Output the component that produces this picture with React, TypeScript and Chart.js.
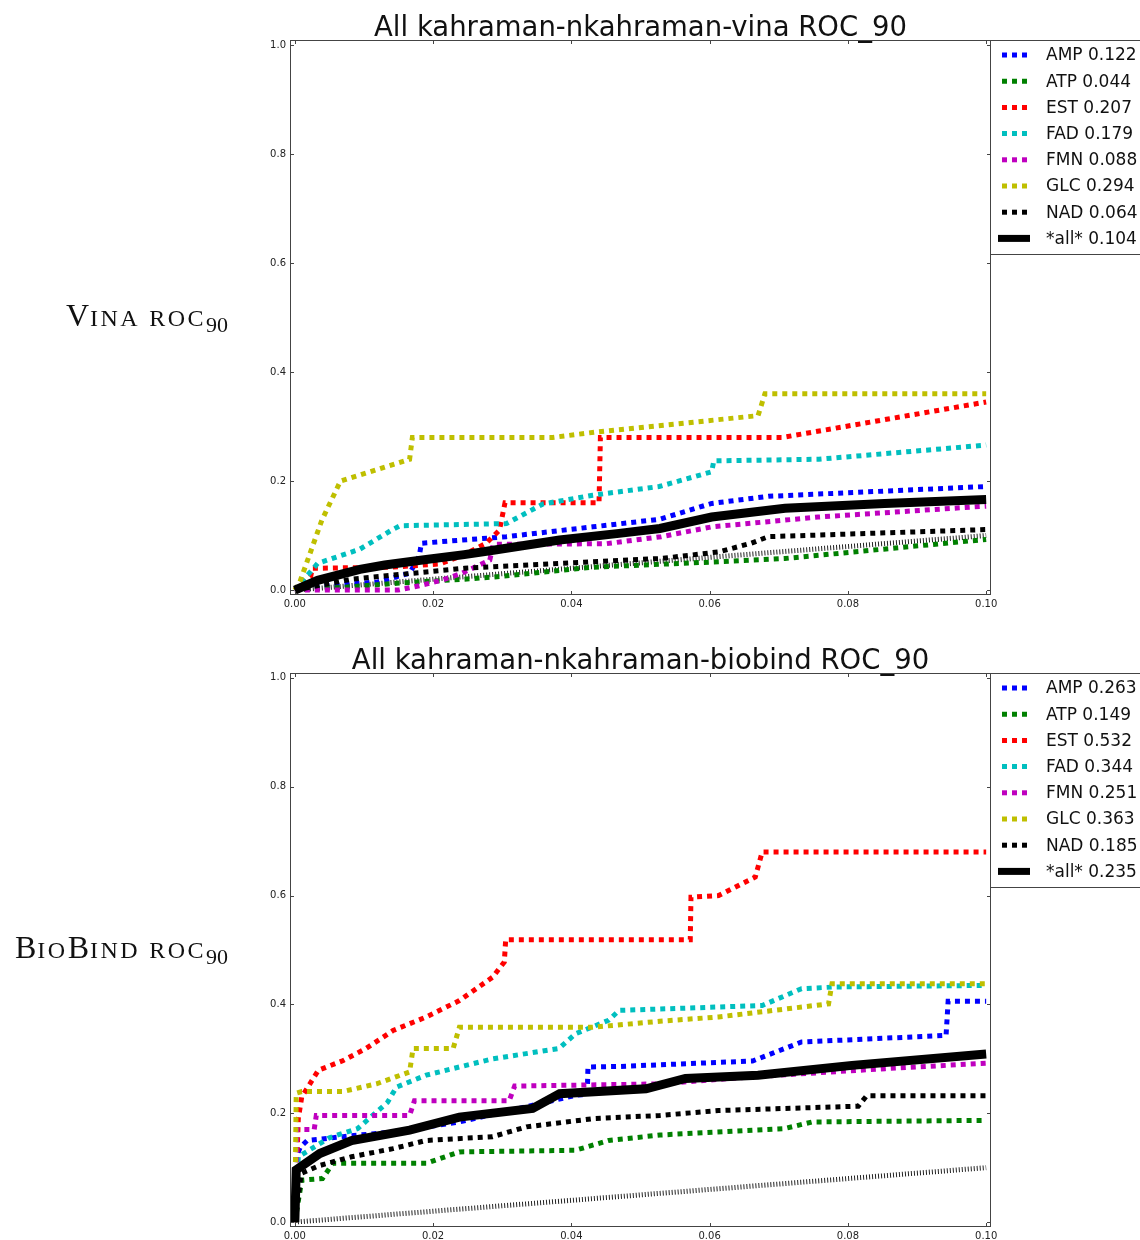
import React, { useEffect, useRef } from "react";
import { Chart, registerables } from "chart.js";
Chart.register(...registerables);

type Pt = [number, number];

// ---------- data ----------
const seriesLabels = ["AMP", "ATP", "EST", "FAD", "FMN", "GLC", "NAD", "*all*"];
const seriesColors = ["#0000ff", "#008000", "#ff0000", "#00bfbf", "#bf00bf", "#bfbf00", "#000000", "#000000"];
const vinaAuc = [0.122, 0.044, 0.207, 0.179, 0.088, 0.294, 0.064, 0.104];
const biobindAuc = [0.263, 0.149, 0.532, 0.344, 0.251, 0.363, 0.185, 0.235];
const xTickValues = [0, 0.02, 0.04, 0.06, 0.08, 0.1];
const yTickValues = [0, 0.2, 0.4, 0.6, 0.8, 1.0];
const randomLine: Pt[] = [[0, 0], [0.1, 0.1]];

const vinaAMP: Pt[] = [[0, 0], [0.005, 0.008], [0.012, 0.015], [0.0166, 0.031], [0.018, 0.062], [0.0183, 0.086], [0.0306, 0.098], [0.0431, 0.116], [0.0528, 0.13], [0.0603, 0.159], [0.0685, 0.172], [0.1, 0.19]];
const vinaATP: Pt[] = [[0, 0], [0.008, 0.006], [0.0152, 0.013], [0.0245, 0.02], [0.0287, 0.024], [0.0431, 0.042], [0.0613, 0.052], [0.0709, 0.058], [0.1, 0.093]];
const vinaEST: Pt[] = [[0, 0], [0.0023, 0.025], [0.0025, 0.04], [0.014, 0.042], [0.021, 0.048], [0.0243, 0.064], [0.0277, 0.086], [0.0296, 0.11], [0.0304, 0.16], [0.044, 0.16], [0.0442, 0.28], [0.0705, 0.28], [0.1, 0.345]];
const vinaFAD: Pt[] = [[0, 0], [0.001, 0.015], [0.0033, 0.049], [0.0094, 0.075], [0.014, 0.11], [0.0152, 0.118], [0.0306, 0.122], [0.0359, 0.158], [0.0431, 0.174], [0.0527, 0.19], [0.0603, 0.217], [0.0606, 0.237], [0.0758, 0.24], [0.1, 0.266]];
const vinaFMN: Pt[] = [[0, 0], [0.0149, 0], [0.018, 0.008], [0.0212, 0.018], [0.024, 0.03], [0.0282, 0.055], [0.0287, 0.084], [0.045, 0.085], [0.053, 0.098], [0.0603, 0.116], [0.0757, 0.134], [0.1, 0.154]];
const vinaGLC: Pt[] = [[0, 0], [0.0007, 0.014], [0.0039, 0.128], [0.0066, 0.2], [0.0166, 0.24], [0.017, 0.28], [0.0373, 0.28], [0.0436, 0.29], [0.067, 0.32], [0.068, 0.36], [0.1, 0.36]];
const vinaNAD: Pt[] = [[0, 0], [0.0082, 0.02], [0.0171, 0.031], [0.0245, 0.04], [0.0287, 0.043], [0.0431, 0.052], [0.053, 0.058], [0.0613, 0.07], [0.066, 0.086], [0.0685, 0.098], [0.1, 0.111]];
const vinaAll: Pt[] = [[0, 0], [0.0033, 0.018], [0.0094, 0.038], [0.013, 0.046], [0.019, 0.056], [0.0245, 0.065], [0.0287, 0.073], [0.0383, 0.092], [0.0469, 0.104], [0.0528, 0.113], [0.0603, 0.134], [0.0709, 0.15], [0.0853, 0.159], [0.1, 0.166]];

const bioAMP: Pt[] = [[0, 0], [0.0002, 0.12], [0.0008, 0.138], [0.0018, 0.15], [0.007, 0.157], [0.0142, 0.166], [0.0238, 0.184], [0.0335, 0.212], [0.0406, 0.233], [0.0423, 0.235], [0.0424, 0.285], [0.0469, 0.286], [0.0662, 0.296], [0.0733, 0.331], [0.0942, 0.343], [0.0945, 0.406], [0.1, 0.406]];
const bioATP: Pt[] = [[0, 0], [0.001, 0.077], [0.004, 0.08], [0.0055, 0.108], [0.019, 0.108], [0.0238, 0.129], [0.0406, 0.132], [0.0454, 0.15], [0.0528, 0.16], [0.0709, 0.172], [0.0748, 0.184], [0.1, 0.187]];
const bioEST: Pt[] = [[0, 0], [0.0005, 0.19], [0.001, 0.23], [0.0034, 0.279], [0.007, 0.297], [0.0103, 0.319], [0.0142, 0.352], [0.019, 0.377], [0.0238, 0.407], [0.0286, 0.45], [0.0303, 0.478], [0.0305, 0.519], [0.0572, 0.519], [0.0573, 0.597], [0.0613, 0.6], [0.0666, 0.634], [0.0676, 0.68], [0.1, 0.68]];
const bioFAD: Pt[] = [[0, 0], [0.0005, 0.12], [0.005, 0.155], [0.0091, 0.172], [0.0134, 0.22], [0.0147, 0.248], [0.019, 0.27], [0.0286, 0.3], [0.0382, 0.319], [0.0406, 0.346], [0.0454, 0.371], [0.0469, 0.389], [0.0676, 0.398], [0.0733, 0.429], [0.078, 0.432], [0.1, 0.435]];
const bioFMN: Pt[] = [[0, 0], [0.0003, 0.17], [0.0028, 0.17], [0.0031, 0.196], [0.0166, 0.196], [0.0173, 0.223], [0.031, 0.223], [0.0318, 0.25], [0.0528, 0.254], [0.0662, 0.267], [0.0854, 0.282], [0.1, 0.292]];
const bioGLC: Pt[] = [[0, 0], [0.0002, 0.237], [0.001, 0.24], [0.007, 0.24], [0.0118, 0.254], [0.0166, 0.276], [0.0171, 0.319], [0.0229, 0.319], [0.0238, 0.358], [0.043, 0.358], [0.0528, 0.369], [0.0613, 0.377], [0.0772, 0.401], [0.0777, 0.438], [0.1, 0.438]];
const bioNAD: Pt[] = [[0, 0], [0.0008, 0.077], [0.001, 0.09], [0.0036, 0.104], [0.0082, 0.12], [0.0142, 0.135], [0.019, 0.15], [0.0286, 0.157], [0.0335, 0.175], [0.0431, 0.19], [0.0528, 0.196], [0.0613, 0.205], [0.0815, 0.213], [0.0827, 0.232], [0.1, 0.232]];
const bioAll: Pt[] = [[0, 0], [0.0002, 0.096], [0.0036, 0.126], [0.0082, 0.15], [0.0166, 0.169], [0.0238, 0.193], [0.0344, 0.209], [0.0383, 0.236], [0.0508, 0.245], [0.0565, 0.264], [0.067, 0.27], [0.0806, 0.288], [0.1, 0.309]];

const vinaSeries = [vinaAMP, vinaATP, vinaEST, vinaFAD, vinaFMN, vinaGLC, vinaNAD, vinaAll];
const bioSeries = [bioAMP, bioATP, bioEST, bioFAD, bioFMN, bioGLC, bioNAD, bioAll];

// ---------- layout ----------
const W = 1140;
const PLOT_LEFT = 290;
const PLOT_RIGHT = 991;
const Y_AXIS_W = 30;
const X_AXIS_H = 13;
const FONT = "'DejaVu Sans', sans-serif";
const DOT = [5, 5];

type Props = {
  title: string;
  series: Pt[][];
  auc: number[];
  canvasTop: number;
  canvasH: number;
  areaTop: number;
  areaBottom: number;
};

function RocChart({ title, series, auc, canvasTop, canvasH, areaTop, areaBottom }: Props) {
  const ref = useRef<HTMLCanvasElement | null>(null);
  useEffect(() => {
    if (!ref.current) return;
    const n = series.length;
    const datasets: any[] = series.map((pts, i) => {
      const isAll = i === n - 1;
      return {
        label: seriesLabels[i],
        data: pts.map(([x, y]) => ({ x, y })),
        borderColor: seriesColors[i],
        backgroundColor: seriesColors[i],
        borderWidth: isAll ? 9 : 5,
        borderDash: isAll ? [] : DOT,
        borderCapStyle: "butt",
        borderJoinStyle: "miter",
        pointRadius: 0,
        fill: false,
        tension: 0,
        order: n - i,
      };
    });
    datasets.push({
      label: "random",
      data: randomLine.map(([x, y]) => ({ x, y })),
      borderColor: "#222",
      borderWidth: 5,
      borderDash: [1, 2],
      borderCapStyle: "butt",
      pointRadius: 0,
      fill: false,
      tension: 0,
      order: n + 5,
    });

    const framePlugin = {
      id: "frameTicks",
      afterDatasetsDraw(chart: any) {
        const { ctx, chartArea: a, scales } = chart;
        ctx.save();
        ctx.strokeStyle = "#444";
        ctx.lineWidth = 1;
        ctx.strokeRect(a.left + 0.5, a.top + 0.5, a.right - a.left - 1, a.bottom - a.top - 1);
        ctx.beginPath();
        xTickValues.forEach((v) => {
          const px = Math.round(scales.x.getPixelForValue(v)) + 0.5;
          ctx.moveTo(px, a.bottom);
          ctx.lineTo(px, a.bottom - 4);
          ctx.moveTo(px, a.top);
          ctx.lineTo(px, a.top + 4);
        });
        yTickValues.forEach((v) => {
          const py = Math.round(scales.y.getPixelForValue(v)) + 0.5;
          ctx.moveTo(a.left, py);
          ctx.lineTo(a.left + 4, py);
          ctx.moveTo(a.right, py);
          ctx.lineTo(a.right - 4, py);
        });
        ctx.stroke();
        ctx.restore();
      },
      afterDraw(chart: any) {
        const { ctx, chartArea: a } = chart;
        ctx.save();
        // title
        ctx.fillStyle = "#111";
        ctx.font = `27.5px ${FONT}`;
        ctx.textAlign = "center";
        ctx.textBaseline = "alphabetic";
        ctx.fillText(title, (a.left + a.right) / 2, a.top - 4);
        // legend
        const lx = a.right - 1;
        const ly = a.top;
        const lh = 214;
        ctx.fillStyle = "#fff";
        ctx.fillRect(lx, ly, W - lx + 10, lh);
        ctx.strokeStyle = "#444";
        ctx.lineWidth = 1;
        ctx.strokeRect(lx + 0.5, ly + 0.5, W - lx + 10, lh);
        for (let i = 0; i < n; i++) {
          const cy = ly + 15 + i * 26.2;
          const isAll = i === n - 1;
          ctx.beginPath();
          ctx.strokeStyle = seriesColors[i];
          ctx.lineWidth = isAll ? 7 : 5;
          ctx.lineCap = "butt";
          ctx.setLineDash(isAll ? [] : DOT);
          ctx.moveTo(isAll ? lx + 8 : lx + 12, cy);
          ctx.lineTo(isAll ? lx + 40 : lx + 37, cy);
          ctx.stroke();
          ctx.setLineDash([]);
          ctx.fillStyle = "#111";
          ctx.font = `17px ${FONT}`;
          ctx.textAlign = "left";
          ctx.textBaseline = "middle";
          ctx.fillText(`${seriesLabels[i]} ${auc[i].toFixed(3)}`, lx + 56, cy + 1);
        }
        ctx.restore();
      },
    };

    const chart = new Chart(ref.current, {
      type: "line",
      data: { datasets },
      options: {
        animation: false,
        responsive: false,
        maintainAspectRatio: false,
        events: [],
        layout: {
          autoPadding: false,
          padding: {
            left: PLOT_LEFT - Y_AXIS_W,
            right: W - PLOT_RIGHT,
            top: areaTop,
            bottom: canvasH - areaBottom - X_AXIS_H,
          },
        },
        plugins: { legend: { display: false }, title: { display: false }, tooltip: { enabled: false } },
        scales: {
          x: {
            type: "linear",
            min: -0.0007,
            max: 0.1007,
            grid: { display: false, drawTicks: false },
            border: { display: false },
            afterBuildTicks: (s: any) => {
              s.ticks = xTickValues.map((v) => ({ value: v }));
            },
            afterFit: (s: any) => {
              s.height = X_AXIS_H;
            },
            ticks: {
              autoSkip: false,
              maxRotation: 0,
              minRotation: 0,
              padding: 3,
              color: "#222",
              font: { family: FONT, size: 10 },
              callback: (v: any) => Number(v).toFixed(2),
            },
          },
          y: {
            type: "linear",
            min: -0.009,
            max: 1.009,
            grid: { display: false, drawTicks: false },
            border: { display: false },
            afterBuildTicks: (s: any) => {
              s.ticks = yTickValues.map((v) => ({ value: v }));
            },
            afterFit: (s: any) => {
              s.width = Y_AXIS_W;
            },
            ticks: {
              autoSkip: false,
              padding: 4,
              color: "#222",
              font: { family: FONT, size: 10 },
              callback: (v: any) => Number(v).toFixed(1),
            },
          },
        },
      } as any,
      plugins: [framePlugin],
    });
    return () => chart.destroy();
  }, []);
  return (
    <canvas
      ref={ref}
      width={W}
      height={canvasH}
      style={{ position: "absolute", left: 0, top: canvasTop, width: W, height: canvasH }}
    />
  );
}

function SideLabel({ big, small, top }: { big: string[]; small: string[]; top: number }) {
  const serif = "'Liberation Serif', serif";
  return (
    <div
      style={{
        position: "absolute",
        right: W - 228,
        top,
        fontFamily: serif,
        color: "#111",
        whiteSpace: "nowrap",
        lineHeight: "36px",
        height: 36,
      }}
    >
      {big.map((b, i) => (
        <React.Fragment key={i}>
          <span style={{ fontSize: 32, letterSpacing: 1 }}>{b}</span>
          <span style={{ fontSize: 24, letterSpacing: 2.5 }}>{small[i]}</span>
        </React.Fragment>
      ))}
      <span style={{ fontSize: 22, position: "relative", top: 6, letterSpacing: 0 }}>90</span>
    </div>
  );
}

export default function App() {
  return (
    <div style={{ position: "absolute", left: 0, top: 0, width: W, height: 1240, background: "#fff", overflow: "hidden" }}>
      <RocChart
        title="All kahraman-nkahraman-vina ROC_90"
        series={vinaSeries}
        auc={vinaAuc}
        canvasTop={0}
        canvasH={620}
        areaTop={40}
        areaBottom={595}
      />
      <RocChart
        title="All kahraman-nkahraman-biobind ROC_90"
        series={bioSeries}
        auc={biobindAuc}
        canvasTop={620}
        canvasH={620}
        areaTop={53}
        areaBottom={607}
      />
      <SideLabel big={["V", " "]} small={["INA", "ROC"]} top={297} />
      <SideLabel big={["B", "B", " "]} small={["IO", "IND", "ROC"]} top={929} />
    </div>
  );
}
